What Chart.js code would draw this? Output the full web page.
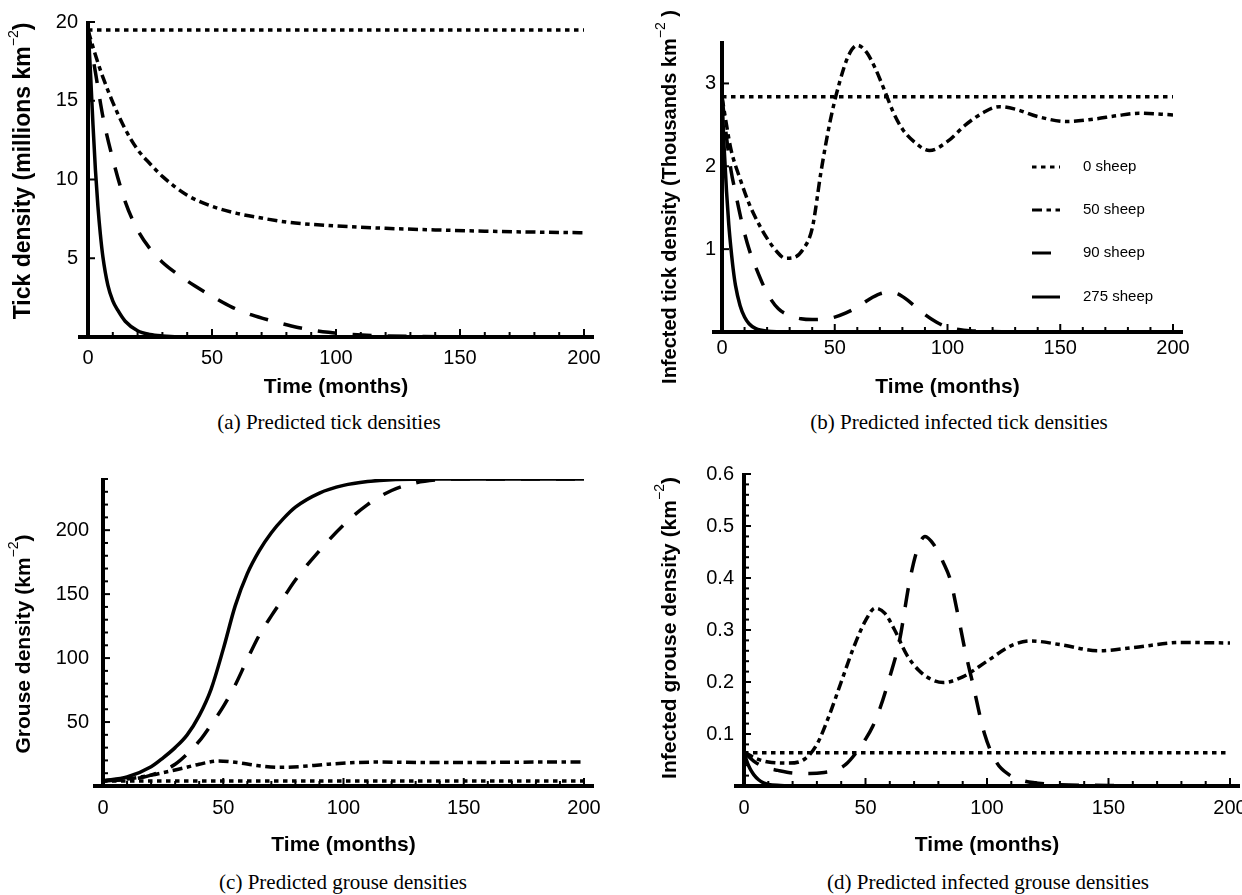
<!DOCTYPE html>
<html>
<head>
<meta charset="utf-8">
<script src="https://cdn.jsdelivr.net/npm/chart.js@4.4.1/dist/chart.umd.min.js"></script>
<style>
  html, body { margin: 0; padding: 0; background: #fff; overflow: hidden; }
  body { width: 1242px; height: 895px; position: relative; }
  canvas { position: absolute; }
  .caption {
    position: absolute; width: 500px; text-align: center;
    font-family: "Liberation Serif", "Times New Roman", serif;
    font-size: 21px; line-height: 24px; color: #000;
  }
</style>
</head>
<body>
<canvas id="chartA" width="620" height="400" style="left:0;top:0"></canvas>
<canvas id="chartB" width="622" height="400" style="left:620px;top:0"></canvas>
<canvas id="chartC" width="620" height="420" style="left:0;top:440px"></canvas>
<canvas id="chartD" width="660" height="420" style="left:620px;top:440px"></canvas>
<div class="caption" style="left:79px;top:410px">(a) Predicted tick densities</div>
<div class="caption" style="left:709px;top:410px">(b) Predicted infected tick densities</div>
<div class="caption" style="left:93px;top:870px">(c) Predicted grouse densities</div>
<div class="caption" style="left:738px;top:870px">(d) Predicted infected grouse densities</div>
<script>
const sheepLabels = ['0 sheep', '50 sheep', '90 sheep', '275 sheep'];

// (a) tick density, millions km^-2
const tickT0 = [0, 200];
const tickV0 = [19.5, 19.5];
const tickT50 = [0, 3, 6, 10, 15, 20, 25, 30, 40, 50, 60, 70, 80, 90, 100, 120, 140, 160, 180, 200];
const tickV50 = [19.5, 17.9, 16.5, 14.9, 13.2, 11.9, 11.0, 10.2, 9.0, 8.3, 7.85, 7.55, 7.3, 7.15, 7.05, 6.9, 6.8, 6.72, 6.66, 6.62];
const tickT90 = [0, 3, 6, 10, 15, 20, 25, 30, 36, 43, 51, 58, 66, 74, 82, 90, 97, 105, 115, 130, 160, 200];
const tickV90 = [19.5, 16.8, 14.0, 11.3, 8.6, 6.8, 5.6, 4.75, 4.0, 3.25, 2.5, 1.9, 1.4, 1.03, 0.7, 0.45, 0.3, 0.18, 0.09, 0.04, 0.01, 0];
const tickT275 = [0, 1, 2, 3, 4, 5, 6, 8, 10, 12, 15, 20, 25, 30, 40, 200];
const tickV275 = [19.8, 16.8, 13.5, 10.6, 8.3, 6.5, 5.1, 3.3, 2.3, 1.7, 1.0, 0.4, 0.16, 0.07, 0.01, 0];

// (b) infected tick density, thousands km^-2
const infTickT0 = [0, 200];
const infTickV0 = [2.84, 2.84];
const infTickT50 = [0, 2, 4, 8, 12, 16, 20, 24, 28, 32, 36, 40, 44, 48, 52, 56, 60, 64, 68, 72, 76, 80, 85, 92, 100, 108, 116, 123, 130, 140, 153, 165, 175, 185, 200];
const infTickV50 = [2.84, 2.5, 2.2, 1.85, 1.55, 1.32, 1.13, 0.98, 0.89, 0.9, 1.0, 1.25, 1.95, 2.55, 3.0, 3.33, 3.46, 3.38, 3.18, 2.92, 2.65, 2.45, 2.3, 2.19, 2.3, 2.5, 2.65, 2.72, 2.69, 2.6, 2.54, 2.57, 2.61, 2.64, 2.62];
const infTickT90 = [0, 2, 4, 6, 9, 12, 15, 20, 25, 30, 35, 40, 45, 50, 55, 60, 65, 70, 74, 78, 82, 86, 90, 95, 100, 105, 110, 120, 140, 200];
const infTickV90 = [2.84, 2.35, 1.95, 1.68, 1.3, 1.0, 0.78, 0.47, 0.28, 0.2, 0.16, 0.15, 0.155, 0.18, 0.23, 0.3, 0.39, 0.46, 0.48, 0.46, 0.39, 0.3, 0.21, 0.12, 0.06, 0.03, 0.015, 0.005, 0, 0];
const infTickT275 = [0, 1, 2, 3, 4, 5, 6, 8, 10, 12, 15, 20, 30, 200];
const infTickV275 = [2.84, 2.2, 1.7, 1.3, 1.0, 0.75, 0.56, 0.32, 0.18, 0.1, 0.04, 0.01, 0, 0];

// (c) grouse density, km^-2
const grouseT0 = [0, 200];
const grouseV0 = [4, 4];
const grouseT50 = [0, 10, 20, 30, 40, 48, 56, 64, 73, 82, 92, 103, 115, 130, 150, 170, 200];
const grouseV50 = [4, 5.5, 8.5, 12.5, 17, 19.6, 18.3, 16, 14.6, 15.2, 16.8, 18.2, 18.7, 18.4, 18.3, 18.6, 18.8];
const grouseT90 = [0, 10, 20, 30, 35, 40, 45, 50, 55, 60, 65, 70, 75, 80, 90, 100, 110, 120, 130, 140, 150, 200];
const grouseV90 = [4, 5, 8.5, 17, 25, 35, 48, 62, 79, 99, 118, 133, 147, 161, 184, 204, 220, 231, 237, 239.5, 240, 240];
const grouseT275 = [0, 10, 20, 25, 30, 35, 40, 45, 50, 55, 60, 65, 70, 75, 80, 90, 100, 110, 120, 140, 200];
const grouseV275 = [4, 7, 15, 22, 30, 40, 55, 76, 107, 141, 166, 184, 198, 209, 218, 229, 235, 238, 239.5, 240, 240];

// (d) infected grouse density, km^-2
const infGrouseT0 = [0, 200];
const infGrouseV0 = [0.064, 0.064];
const infGrouseT50 = [0, 5, 10, 18, 25, 30, 35, 40, 45, 50, 54, 58, 62, 67, 72, 77, 82, 90, 100, 110, 118, 130, 146, 160, 180, 200];
const infGrouseV50 = [0.065, 0.053, 0.046, 0.044, 0.052, 0.08, 0.135, 0.2, 0.265, 0.318, 0.342, 0.332, 0.3, 0.252, 0.222, 0.205, 0.199, 0.21, 0.24, 0.27, 0.279, 0.272, 0.26, 0.266, 0.276, 0.275];
const infGrouseT90 = [0, 4, 8, 14, 20, 27, 33, 38, 42, 46, 50, 53, 56, 60, 64, 68, 71, 74.5, 78, 82, 85, 88, 91, 94, 99, 104, 109, 115, 125, 150, 200];
const infGrouseV90 = [0.065, 0.048, 0.037, 0.03, 0.025, 0.024, 0.026, 0.031, 0.042, 0.063, 0.09, 0.115, 0.15, 0.21, 0.28, 0.39, 0.45, 0.48, 0.465, 0.43, 0.395, 0.33, 0.26, 0.2, 0.1, 0.045, 0.022, 0.01, 0.004, 0.001, 0];
const infGrouseT275 = [0, 1, 2, 3, 4, 6, 8, 10, 15, 20, 200];
const infGrouseV275 = [0.065, 0.05, 0.038, 0.029, 0.022, 0.012, 0.006, 0.003, 0.001, 0, 0];

const SANS = '"Liberation Sans", Arial, Helvetica, sans-serif';
const dashes = [[4.5, 4.5], [10, 4.5, 4.5, 4.5], [19, 16], []];

// short inward tick marks and the thick axis lines
const axisFrame = {
  id: 'axisFrame',
  afterDraw(chart, args, opts) {
    const { ctx, chartArea: a, scales: { x, y } } = chart;
    ctx.save();
    ctx.strokeStyle = '#000';
    ctx.setLineDash([]);
    ctx.lineWidth = 2;
    x.ticks.forEach(t => {
      const px = x.getPixelForValue(t.value);
      const len = t.label !== '' ? 8 : 5;
      ctx.beginPath(); ctx.moveTo(px, a.bottom); ctx.lineTo(px, a.bottom - len); ctx.stroke();
    });
    y.ticks.forEach(t => {
      const py = y.getPixelForValue(t.value);
      const len = t.label !== '' ? 7 : 5;
      ctx.beginPath(); ctx.moveTo(a.left, py); ctx.lineTo(a.left + len, py); ctx.stroke();
    });
    ctx.lineWidth = 4;
    ctx.beginPath(); ctx.moveTo(a.left - 10, a.bottom); ctx.lineTo(a.right + 10, a.bottom); ctx.stroke();
    ctx.beginPath(); ctx.moveTo(a.left, a.top - 1); ctx.lineTo(a.left, a.bottom + 2); ctx.stroke();
    ctx.restore();
  }
};

// vertical y title with a superscript
const yTitle = {
  id: 'yTitle',
  afterDraw(chart, args, opts) {
    const { ctx } = chart;
    const main = 'bold ' + opts.size + 'px ' + SANS;
    const sup = '14px ' + SANS;
    const parts = [[opts.before, main, 0], ['\u22122', sup, -opts.size * 0.45], [opts.after, main, 0]];
    ctx.save();
    ctx.translate(opts.x, opts.y);
    ctx.rotate(-Math.PI / 2);
    ctx.fillStyle = '#000';
    ctx.textBaseline = 'middle';
    ctx.textAlign = 'left';
    let total = 0;
    parts.forEach(p => { ctx.font = p[1]; total += ctx.measureText(p[0]).width; });
    let cx = -total / 2;
    parts.forEach(p => {
      ctx.font = p[1];
      ctx.fillText(p[0], cx, p[2]);
      cx += ctx.measureText(p[0]).width;
    });
    ctx.restore();
  }
};

// legend with line samples (panel b)
const sheepKey = {
  id: 'sheepKey',
  afterDraw(chart, args, opts) {
    if (!opts.show) return;
    const { ctx } = chart;
    ctx.save();
    chart.data.datasets.forEach((ds, i) => {
      const y = opts.rows[i];
      ctx.strokeStyle = '#000';
      ctx.lineWidth = 3;
      ctx.setLineDash(ds.borderDash);
      ctx.beginPath(); ctx.moveTo(opts.x0, y); ctx.lineTo(opts.x1, y); ctx.stroke();
      ctx.setLineDash([]);
      ctx.fillStyle = '#000';
      ctx.font = '15px ' + SANS;
      ctx.textBaseline = 'middle';
      ctx.fillText(ds.label, opts.textX, y);
    });
    ctx.restore();
  }
};

function makePanel(id, p) {
  const canvas = document.getElementById(id);
  const W = canvas.width, H = canvas.height;
  new Chart(canvas, {
    type: 'line',
    data: {
      datasets: p.times.map((ts, i) => ({
        label: sheepLabels[i],
        data: ts.map((t, k) => ({ x: t, y: p.values[i][k] })),
        borderColor: '#000',
        borderWidth: 3.5,
        borderDash: dashes[i],
        pointRadius: 0,
        cubicInterpolationMode: 'monotone',
        fill: false
      }))
    },
    options: {
      responsive: false,
      animation: false,
      events: [],
      layout: { autoPadding: false, padding: { top: p.area.top, right: W - p.area.right, bottom: 0, left: 0 } },
      scales: {
        x: {
          type: 'linear', min: 0, max: 200,
          afterFit: s => { s.height = H - p.area.bottom; },
          grid: { display: false, drawTicks: false },
          border: { display: false },
          ticks: {
            stepSize: 10, autoSkip: false, maxRotation: 0, padding: p.xPad,
            color: '#000', font: { family: SANS, size: 20 },
            callback: v => (v % 50 === 0 ? String(v) : '')
          },
          title: {
            display: true, text: 'Time (months)', color: '#000',
            font: { family: SANS, size: 21, weight: 'bold' },
            padding: { top: 0, bottom: p.xTitlePad }
          }
        },
        y: {
          type: 'linear', min: 0, max: p.yMax,
          afterFit: s => { s.width = p.area.left; },
          grid: { display: false, drawTicks: false },
          border: { display: false },
          ticks: {
            stepSize: p.yStep, autoSkip: false, includeBounds: false, padding: p.yPad,
            color: '#000', font: { family: SANS, size: 20 },
            callback: p.yLabel
          }
        }
      },
      plugins: {
        legend: { display: false },
        tooltip: { enabled: false },
        yTitle: p.title,
        sheepKey: p.key || { show: false }
      }
    },
    plugins: [axisFrame, yTitle, sheepKey]
  });
}

makePanel('chartA', {
  times: [tickT0, tickT50, tickT90, tickT275],
  values: [tickV0, tickV50, tickV90, tickV275],
  area: { left: 88, right: 584, top: 22, bottom: 337 },
  xPad: 9, xTitlePad: 0, yPad: 10, yMax: 20, yStep: 5,
  yLabel: v => (v > 0 ? String(v) : ''),
  title: { x: 24, y: 171, size: 23, before: 'Tick density (millions km', after: ')' }
});

makePanel('chartB', {
  times: [infTickT0, infTickT50, infTickT90, infTickT275],
  values: [infTickV0, infTickV50, infTickV90, infTickV275],
  area: { left: 102, right: 553, top: 42, bottom: 332 },
  xPad: 4, xTitlePad: 0, yPad: 6, yMax: 3.5, yStep: 1,
  yLabel: v => (v > 0 && Number.isInteger(v) ? String(v) : ''),
  title: { x: 50, y: 197, size: 20, before: 'Infected tick density (Thousands km', after: ' )' },
  key: { show: true, rows: [167, 210, 253, 297], x0: 412, x1: 440, textX: 463 }
});

makePanel('chartC', {
  times: [grouseT0, grouseT50, grouseT90, grouseT275],
  values: [grouseV0, grouseV50, grouseV90, grouseV275],
  area: { left: 103, right: 584, top: 39, bottom: 346 },
  xPad: 10, xTitlePad: 2, yPad: 14, yMax: 240, yStep: 10,
  yLabel: v => (v > 0 && v % 50 === 0 ? String(v) : ''),
  title: { x: 24, y: 204, size: 21, before: 'Grouse density (km', after: ')' }
});

makePanel('chartD', {
  times: [infGrouseT0, infGrouseT50, infGrouseT90, infGrouseT275],
  values: [infGrouseV0, infGrouseV50, infGrouseV90, infGrouseV275],
  area: { left: 124, right: 610, top: 34, bottom: 346 },
  xPad: 10, xTitlePad: 2, yPad: 10, yMax: 0.6, yStep: 0.02,
  yLabel: v => (v > 0 && Math.abs(v * 10 - Math.round(v * 10)) < 1e-6 ? v.toFixed(1) : ''),
  title: { x: 50, y: 188, size: 21, before: 'Infected grouse density (km', after: ')' }
});
</script>
</body>
</html>
